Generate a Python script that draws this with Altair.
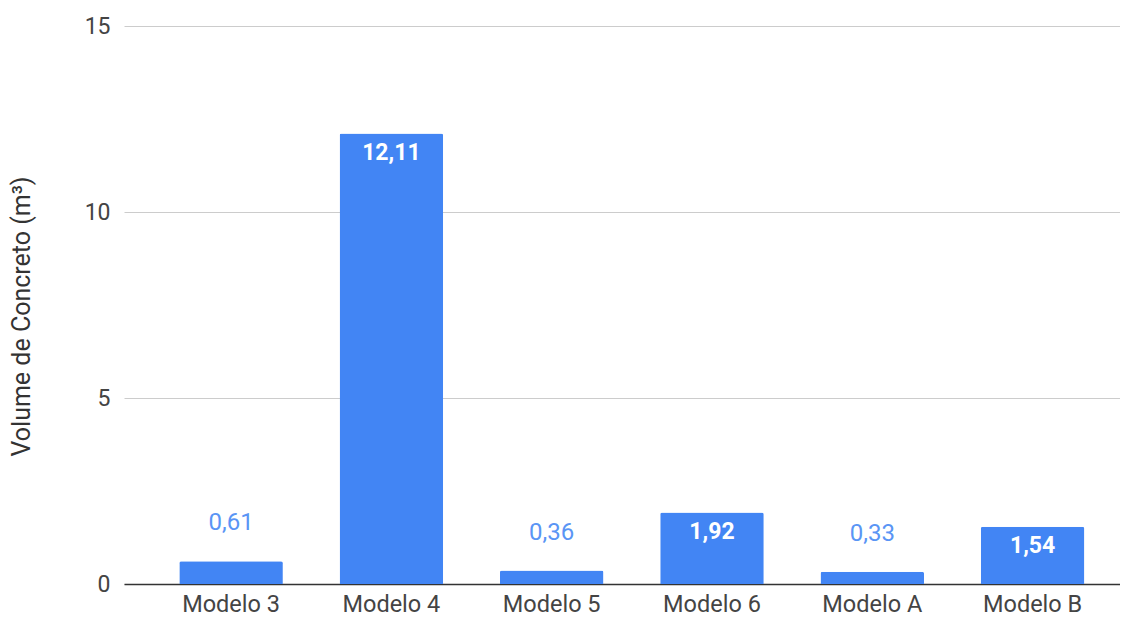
import altair as alt
import pandas as pd

categories = ["Modelo 3", "Modelo 4", "Modelo 5", "Modelo 6", "Modelo A", "Modelo B"]
values = [0.61, 12.11, 0.36, 1.92, 0.33, 1.54]
y_ticks = [0, 5, 10, 15]

df = pd.DataFrame({"Modelo": categories, "Volume": values})

FONT = "Roboto"
BLUE = "#4285F4"

x_enc = alt.X(
    "Modelo:N",
    sort=categories,
    scale=alt.Scale(paddingInner=0.354, paddingOuter=0.2837, align=0.608),
    axis=alt.Axis(
        title=None, labelAngle=0, labelFont=FONT, labelFontSize=23.5, labelColor="#444444",
        ticks=False, labelPadding=8, domainColor="#333333", domainWidth=1.5, grid=False,
    ),
)
y_enc = alt.Y(
    "Volume:Q",
    scale=alt.Scale(domain=[0, 15], nice=False),
    axis=alt.Axis(
        values=y_ticks, title="Volume de Concreto (m³)", labelFont=FONT, labelFontSize=23,
        labelColor="#444444", ticks=False, domain=False, labelPadding=14,
        gridColor="#cccccc", gridWidth=1,
        titleFont=FONT, titleFontSize=25, titleFontWeight="normal", titleColor="#333333",
        titleX=-103, titleY=290, titleAngle=270, titleAlign="center", titleBaseline="middle",
    ),
)

base = alt.Chart(df).encode(x=x_enc, y=y_enc)

bars = base.mark_bar(color=BLUE, cornerRadiusTopLeft=2, cornerRadiusTopRight=2)

labeled = base.transform_calculate(
    label="replace(format(datum.Volume, '.2f'), '.', ',')"
)

inside = labeled.transform_filter("datum.Volume >= 1").mark_text(
    font=FONT, fontSize=23, fontWeight="bold", color="white", baseline="middle", dy=19
).encode(text="label:N")

outside = labeled.transform_filter("datum.Volume < 1").mark_text(
    font=FONT, fontSize=24, color="#5A95F5", baseline="middle", dy=-38
).encode(text="label:N")

chart = (
    alt.layer(bars, inside, outside)
    .properties(
        width=996, height=558,
        autosize=alt.AutoSizeParams(type="none"),
        padding={"left": 116, "top": 18, "right": 0, "bottom": 33},
    )
    .configure_view(stroke=None)
)

chart.save("out.html", embed_options={"renderer": "svg", "actions": False})
